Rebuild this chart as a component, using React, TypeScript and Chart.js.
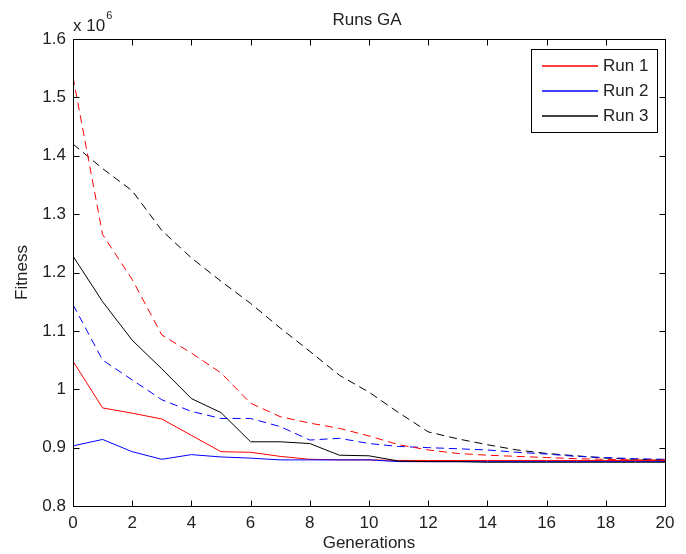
import React, { useEffect, useRef } from "react";
import { Chart, registerables } from "chart.js";

Chart.register(...registerables);

const generations = [0, 1, 2, 3, 4, 5, 6, 7, 8, 9, 10, 11, 12, 13, 14, 15, 16, 17, 18, 19, 20];

// Fitness values in units of 10^6
const run1Best = [1.048, 0.968, 0.959, 0.949, 0.921, 0.893, 0.892, 0.885, 0.880, 0.879, 0.879, 0.878, 0.878, 0.878, 0.878, 0.878, 0.878, 0.878, 0.878, 0.878, 0.878];
const run1Mean = [1.535, 1.265, 1.188, 1.093, 1.062, 1.028, 0.976, 0.953, 0.942, 0.933, 0.920, 0.905, 0.896, 0.890, 0.887, 0.885, 0.883, 0.881, 0.880, 0.879, 0.879];
const run2Best = [0.903, 0.914, 0.893, 0.880, 0.888, 0.884, 0.882, 0.879, 0.879, 0.879, 0.879, 0.876, 0.876, 0.876, 0.876, 0.876, 0.876, 0.876, 0.876, 0.876, 0.876];
const run2Mean = [1.145, 1.050, 1.016, 0.982, 0.962, 0.950, 0.950, 0.936, 0.913, 0.916, 0.907, 0.902, 0.900, 0.898, 0.896, 0.892, 0.889, 0.885, 0.883, 0.881, 0.880];
const run3Best = [1.228, 1.150, 1.084, 1.035, 0.984, 0.960, 0.910, 0.910, 0.907, 0.887, 0.886, 0.877, 0.876, 0.876, 0.875, 0.875, 0.875, 0.875, 0.875, 0.875, 0.875];
const run3Mean = [1.420, 1.378, 1.340, 1.272, 1.225, 1.185, 1.147, 1.105, 1.065, 1.024, 0.995, 0.960, 0.927, 0.915, 0.905, 0.896, 0.890, 0.886, 0.882, 0.880, 0.879];

const legendLabels = ["Run 1", "Run 2", "Run 3"];
const runColors = ["#ff0000", "#0000ff", "#000000"];
const xTicks = [0, 2, 4, 6, 8, 10, 12, 14, 16, 18, 20];
const yTicks = [0.8, 0.9, 1.0, 1.1, 1.2, 1.3, 1.4, 1.5, 1.6];

const FONT = "'Liberation Sans', Arial, Helvetica, sans-serif";
const TEXT = "#222222";

const toPoints = (vals: number[]) => vals.map((v, i) => ({ x: generations[i], y: v }));

const matlabFrame = {
  id: "matlabFrame",
  afterDraw(chart: any) {
    const { ctx, chartArea: a, scales } = chart;
    const xs = scales.x;
    const ys = scales.y;
    const L = Math.round(a.left) + 0.5;
    const R = Math.round(a.right) + 0.5;
    const T = Math.round(a.top) + 0.5;
    const B = Math.round(a.bottom) + 0.5;
    ctx.save();
    ctx.setLineDash([]);
    ctx.strokeStyle = "#000";
    ctx.lineWidth = 1;
    ctx.strokeRect(L, T, R - L, B - T);
    const tl = 6;
    ctx.beginPath();
    xTicks.forEach((v) => {
      const px = Math.round(xs.getPixelForValue(v)) + 0.5;
      ctx.moveTo(px, B);
      ctx.lineTo(px, B - tl);
      ctx.moveTo(px, T);
      ctx.lineTo(px, T + tl);
    });
    yTicks.forEach((v) => {
      const py = Math.round(ys.getPixelForValue(v)) + 0.5;
      ctx.moveTo(L, py);
      ctx.lineTo(L + tl, py);
      ctx.moveTo(R, py);
      ctx.lineTo(R - tl, py);
    });
    ctx.stroke();

    // texts
    ctx.fillStyle = TEXT;
    ctx.font = `17px ${FONT}`;
    ctx.textAlign = "center";
    ctx.textBaseline = "middle";
    const cx = (a.left + a.right) / 2;
    ctx.fillText("Runs GA", cx - 2, 20);
    ctx.fillText("Generations", cx, 543);
    ctx.save();
    ctx.translate(22, (a.top + a.bottom) / 2);
    ctx.rotate(-Math.PI / 2);
    ctx.fillText("Fitness", 0, 0);
    ctx.restore();

    ctx.textAlign = "left";
    ctx.fillText("x 10", a.left, 26);
    const w = ctx.measureText("x 10").width;
    ctx.font = `11px ${FONT}`;
    ctx.fillText("6", a.left + w + 1, 16);

    // legend
    const bx = 531.5, by = 49.5, bw = 126, bh = 83;
    ctx.fillStyle = "#ffffff";
    ctx.fillRect(bx, by, bw, bh);
    ctx.strokeStyle = "#000000";
    ctx.strokeRect(bx, by, bw, bh);
    ctx.font = `17px ${FONT}`;
    ctx.textBaseline = "middle";
    for (let i = 0; i < legendLabels.length; i++) {
      const ly = 66 + i * 25;
      ctx.save();
      ctx.setLineDash([]);
      ctx.lineWidth = 1.3;
      ctx.strokeStyle = runColors[i];
      ctx.beginPath();
      ctx.moveTo(542, ly);
      ctx.lineTo(598, ly);
      ctx.stroke();
      ctx.restore();
      ctx.fillStyle = TEXT;
      ctx.fillText(legendLabels[i], 603, ly + 0.5);
    }
    ctx.restore();
  },
};

export default function App() {
  const ref = useRef<HTMLCanvasElement | null>(null);
  useEffect(() => {
    document.body.style.margin = "0";
    const canvas = ref.current!;
    const mk = (label: string, vals: number[], color: string, dashed: boolean) => ({
      label,
      data: toPoints(vals),
      borderColor: color,
      backgroundColor: color,
      borderWidth: 1,
      borderDash: dashed ? [8, 5] : [],
      pointRadius: 0,
      fill: false,
      tension: 0,
    });
    const chart = new Chart(canvas, {
      type: "line",
      data: {
        datasets: [
          mk("Run 1 mean", run1Mean, runColors[0], true),
          mk("Run 2 mean", run2Mean, runColors[1], true),
          mk("Run 3 mean", run3Mean, runColors[2], true),
          mk(legendLabels[2], run3Best, runColors[2], false),
          mk(legendLabels[1], run2Best, runColors[1], false),
          mk(legendLabels[0], run1Best, runColors[0], false),
        ],
      },
      options: {
        responsive: false,
        animation: false,
        layout: { padding: { top: 39, right: 21, left: 0, bottom: 0 } },
        plugins: {
          legend: { display: false },
          title: { display: false },
          tooltip: { enabled: false },
        },
        scales: {
          x: {
            type: "linear",
            min: 0,
            max: 20,
            grid: { display: false, drawTicks: false },
            border: { display: false },
            ticks: {
              stepSize: 2,
              padding: 7,
              maxRotation: 0,
              font: { family: FONT, size: 17 },
              color: TEXT,
            },
            afterFit: (s: any) => {
              s.height = 48;
            },
          },
          y: {
            type: "linear",
            min: 0.8,
            max: 1.6,
            grid: { display: false, drawTicks: false },
            border: { display: false },
            ticks: {
              stepSize: 0.1,
              padding: 7,
              font: { family: FONT, size: 17 },
              color: TEXT,
              callback: (v: any) => String(Number(Number(v).toFixed(1))),
            },
            afterFit: (s: any) => {
              s.width = 73;
            },
          },
        },
      },
      plugins: [matlabFrame],
    });
    return () => chart.destroy();
  }, []);
  return (
    <div style={{ position: "absolute", left: 0, top: 0, width: 686, height: 554, background: "#fff" }}>
      <canvas ref={ref} width={686} height={554} />
    </div>
  );
}
